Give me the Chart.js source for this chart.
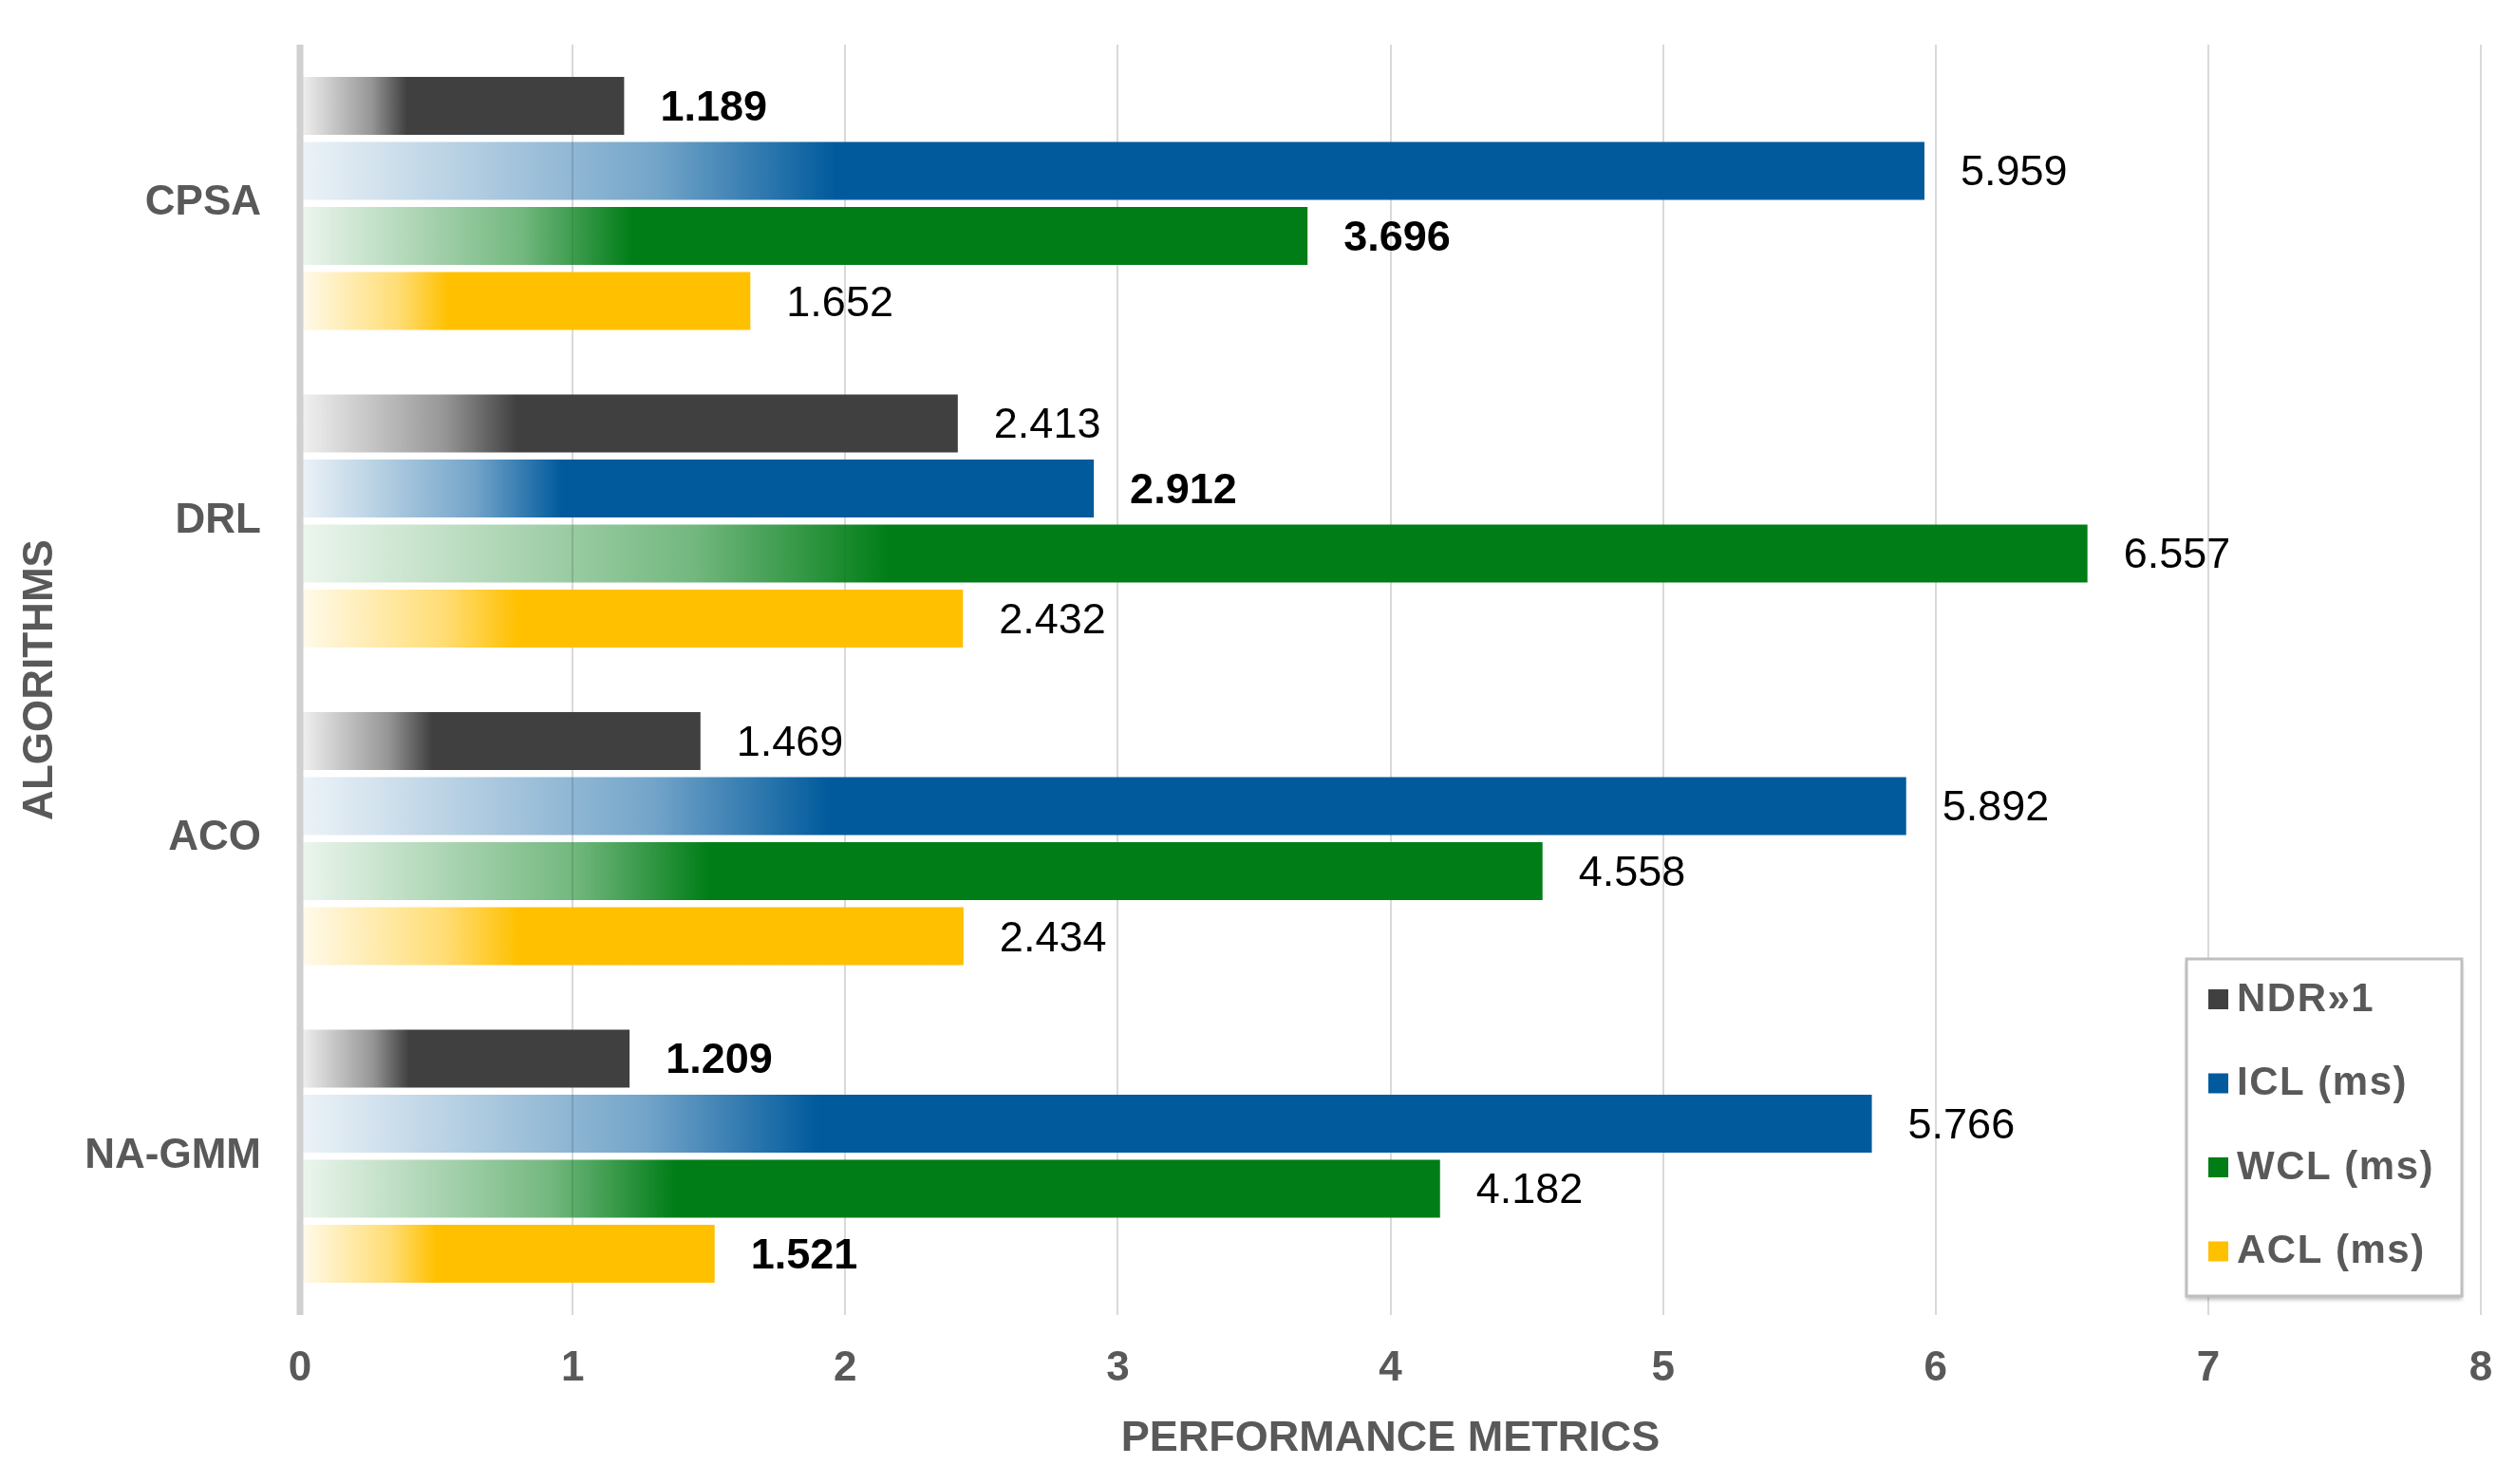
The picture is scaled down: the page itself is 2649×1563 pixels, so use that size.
<!DOCTYPE html>
<html>
<head>
<meta charset="utf-8">
<script src="https://cdn.jsdelivr.net/npm/chart.js@4.4.1/dist/chart.umd.min.js"></script>
<style>
  html, body { margin: 0; padding: 0; background: #fff; }
  canvas { display: block; }
</style>
</head>
<body>
<canvas id="chart" width="2649" height="1563"></canvas>
<script>
// chart data
const algorithms = ["CPSA", "DRL", "ACO", "NA-GMM"];
const seriesNames = ["NDR»1", "ICL (ms)", "WCL (ms)", "ACL (ms)"];
const ndr = [1.189, 2.413, 1.469, 1.209];
const icl = [5.959, 2.912, 5.892, 5.766];
const wcl = [3.696, 6.557, 4.558, 4.182];
const acl = [1.652, 2.432, 2.434, 1.521];
const xTicks = [0, 1, 2, 3, 4, 5, 6, 7, 8];

const colors = ["64,64,64", "0,90,156", "0,125,22", "255,192,0"];
// labels printed in bold, per series (index into algorithms)
const boldLabels = [[0, 3], [1], [0], [3]];

const FONT = '"Liberation Sans", Arial, sans-serif';
const GREY = "#595959";

// faded-in fill, like the office gradient bars
function barFill(rgb) {
  return (c) => {
    const chart = c.chart;
    if (!chart.chartArea || c.type !== "data") return "rgb(" + rgb + ")";
    const x = chart.scales.x;
    const x0 = x.getPixelForValue(0);
    const x1 = x.getPixelForValue(c.parsed.x);
    const g = chart.ctx.createLinearGradient(x0, 0, x1, 0);
    g.addColorStop(0, "rgba(" + rgb + ",0.07)");
    g.addColorStop(0.22, "rgba(" + rgb + ",0.55)");
    g.addColorStop(0.33, "rgba(" + rgb + ",1)");
    g.addColorStop(1, "rgba(" + rgb + ",1)");
    return g;
  };
}

const values = [ndr, icl, wcl, acl];
const datasets = values.map((v, i) => ({
  label: seriesNames[i],
  data: v,
  backgroundColor: barFill(colors[i]),
  borderWidth: 0,
  categoryPercentage: 0.82,
  barPercentage: 0.89
}));

const extras = {
  id: "extras",
  afterDatasetsDraw(chart) {
    const ctx = chart.ctx;
    const a = chart.chartArea;
    ctx.save();
    // thick value axis line on the left
    ctx.strokeStyle = "#d0d0d0";
    ctx.lineWidth = 7;
    ctx.beginPath();
    ctx.moveTo(a.left, a.top);
    ctx.lineTo(a.left, a.bottom);
    ctx.stroke();

    // value labels
    ctx.textBaseline = "middle";
    ctx.textAlign = "left";
    ctx.fillStyle = "#000";
    chart.data.datasets.forEach((ds, i) => {
      chart.getDatasetMeta(i).data.forEach((bar, j) => {
        const bold = boldLabels[i].includes(j);
        ctx.font = (bold ? "bold " : "") + "45px " + FONT;
        ctx.fillText(ds.data[j].toFixed(3), bar.x + 38, bar.y + 3);
      });
    });
    ctx.restore();
  },
  afterDraw(chart) {
    // boxed legend in the lower right
    const ctx = chart.ctx;
    const bx = 2303, by = 1010, bw = 290, bh = 355;
    ctx.save();
    ctx.shadowColor = "rgba(0,0,0,0.25)";
    ctx.shadowOffsetY = 4;
    ctx.shadowBlur = 4;
    ctx.fillStyle = "#fff";
    ctx.fillRect(bx, by, bw, bh);
    ctx.shadowColor = "transparent";
    ctx.strokeStyle = "#bfbfbf";
    ctx.lineWidth = 3;
    ctx.strokeRect(bx, by, bw, bh);
    ctx.font = "bold 42px " + FONT;
    ctx.letterSpacing = "1.5px";
    ctx.textBaseline = "middle";
    chart.data.datasets.forEach((ds, i) => {
      const y = 1052 + i * 88.5;
      ctx.fillStyle = "rgb(" + colors[i] + ")";
      ctx.fillRect(2326, y - 10, 21, 21);
      ctx.fillStyle = GREY;
      ctx.fillText(ds.label, 2356, y + 1);
    });
    ctx.restore();
  }
};

new Chart(document.getElementById("chart"), {
  type: "bar",
  data: { labels: algorithms, datasets: datasets },
  plugins: [extras],
  options: {
    indexAxis: "y",
    responsive: false,
    animation: false,
    devicePixelRatio: 1,
    layout: { padding: { top: 47, right: 36, bottom: 0, left: 0 } },
    plugins: { legend: { display: false }, tooltip: { enabled: false } },
    scales: {
      x: {
        min: xTicks[0],
        max: xTicks[xTicks.length - 1],
        afterBuildTicks: (s) => { s.ticks = xTicks.map(v => ({ value: v })); },
        grid: { color: "#d9d9d9", lineWidth: 2, drawTicks: false },
        border: { display: false },
        ticks: { color: GREY, font: { family: FONT, size: 44, weight: "bold" }, padding: 30 },
        title: {
          display: true, text: "PERFORMANCE METRICS", color: GREY,
          font: { family: FONT, size: 45, weight: "bold" }, padding: { top: 0, bottom: 20 }
        },
        afterFit: (s) => { s.height = 178; s.paddingLeft = 0; s.paddingRight = 0; }
      },
      y: {
        grid: { display: false, drawTicks: false },
        border: { display: false },
        ticks: { color: GREY, font: { family: FONT, size: 44, weight: "bold" }, padding: 41 },
        title: {
          display: true, text: "ALGORITHMS", color: GREY,
          font: { family: FONT, size: 44, weight: "bold" }, padding: { top: 16, bottom: 0 }
        },
        afterFit: (s) => { s.width = 316; s.paddingTop = 0; s.paddingBottom = 0; }
      }
    }
  }
});
</script>
</body>
</html>
